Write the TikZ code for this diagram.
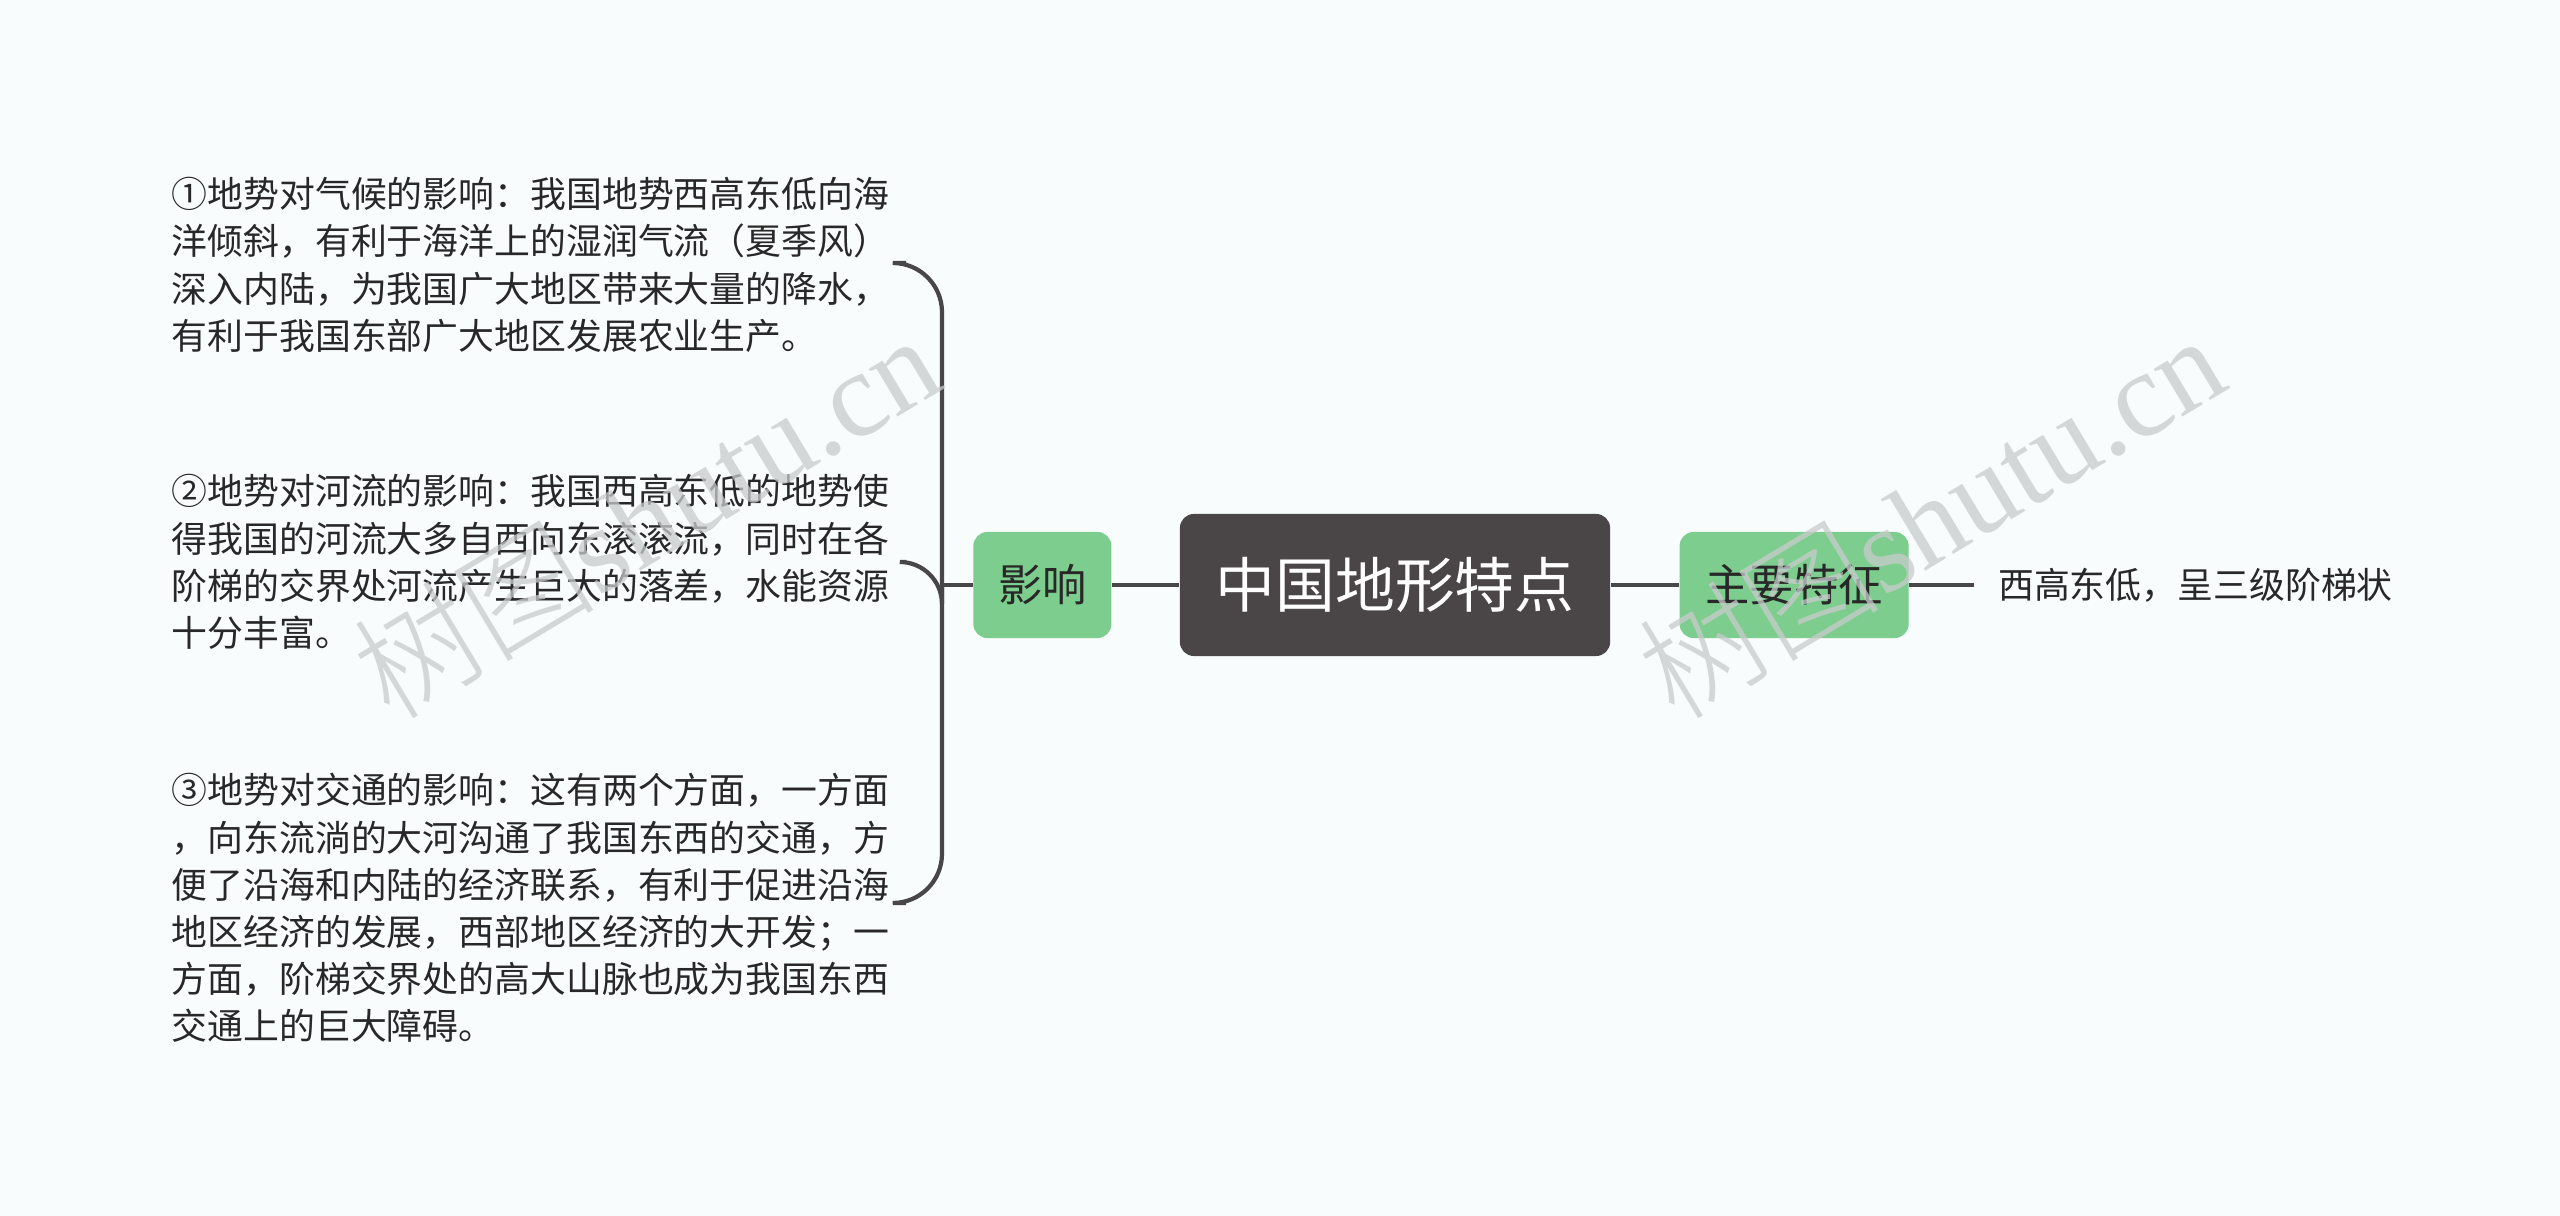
\documentclass[tikz,border=0pt]{standalone}
\usepackage{fontspec}
\setmainfont{Noto Sans CJK SC}
\newfontfamily\wmfont{Liberation Serif}
\newfontfamily\wmcjk{Noto Sans CJK SC Light}
\definecolor{pagebg}{RGB}{248,252,253}
\definecolor{rootgray}{RGB}{74,69,70}
\definecolor{leafgreen}{RGB}{125,205,142}
\definecolor{linkgray}{RGB}{72,70,72}
\definecolor{inkdark}{RGB}{40,40,40}
\definecolor{markgray}{RGB}{200,203,203}
\usetikzlibrary{positioning}

\begin{document}
\begin{tikzpicture}[x=0.01cm, y=-0.01cm,
  node distance=0.67cm,
  root/.style={fill=rootgray, rounded corners=4pt, text=white, minimum width=4.3cm, minimum height=1.42cm, font=\fontsize{17pt}{20pt}\selectfont},
  topic/.style={fill=leafgreen, rounded corners=4pt, text=inkdark, minimum height=1.06cm, font=\fontsize{12.6pt}{15pt}\selectfont},
  leaf/.style={text=inkdark, inner ysep=0pt, inner xsep=0.23cm, font=\fontsize{10.2pt}{13pt}\selectfont},
  para/.style={text=inkdark, inner sep=0pt, anchor=west, align=left, font=\fontsize{10.2pt}{13.4pt}\selectfont},
  link/.style={draw=linkgray, line width=1.2pt},
  wmark/.style={text=markgray, opacity=0.75, rotate=31, font=\fontsize{34.5pt}{38pt}\selectfont}
]
\fill[pagebg] (0,0) rectangle (2560,1216);
\useasboundingbox (0,0) rectangle (2560,1216);

\node[root] (root) at (1395,585) {中国地形特点};
\node[topic, minimum width=1.38cm, left=of root] (ying) {影响};
\node[topic, minimum width=2.29cm, right=0.68cm of root] (feat) {主要特征};
\node[leaf, right=0.65cm of feat] (east) {西高东低，呈三级阶梯状};

\node[para] (k1) at (171,265) {①地势对气候的影响：我国地势西高东低向海\\洋倾斜，有利于海洋上的湿润气流（夏季风）\\深入内陆，为我国广大地区带来大量的降水，\\有利于我国东部广大地区发展农业生产。};
\node[para] (k2) at (171,562) {②地势对河流的影响：我国西高东低的地势使\\得我国的河流大多自西向东滚滚流，同时在各\\阶梯的交界处河流产生巨大的落差，水能资源\\十分丰富。};
\node[para] (k3) at (171,908) {③地势对交通的影响：这有两个方面，一方面\\，向东流淌的大河沟通了我国东西的交通，方\\便了沿海和内陆的经济联系，有利于促进沿海\\地区经济的发展，西部地区经济的大开发；一\\方面，阶梯交界处的高大山脉也成为我国东西\\交通上的巨大障碍。};

% bracket
\coordinate (brT) at (906,263);
\coordinate (brM) at (906,562);
\coordinate (brB) at (906,903);
\coordinate (brX) at (942,585);
\draw[link, rounded corners=14] (brT) -| (brX) |- (brB);
\draw[link, rounded corners=12] (brM) -| (brX);
\draw[link] (ying) -- (brX);
\draw[link] (root) -- (ying);
\draw[link] (root) -- (feat);
\draw[link] (feat) -- (east);

% watermark
\node[wmark] (wm1) at (645,515) {\wmcjk 树图\wmfont shutu.cn};
\node[wmark] (wm2) at (1930,515) {\wmcjk 树图\wmfont shutu.cn};
\end{tikzpicture}
\end{document}
